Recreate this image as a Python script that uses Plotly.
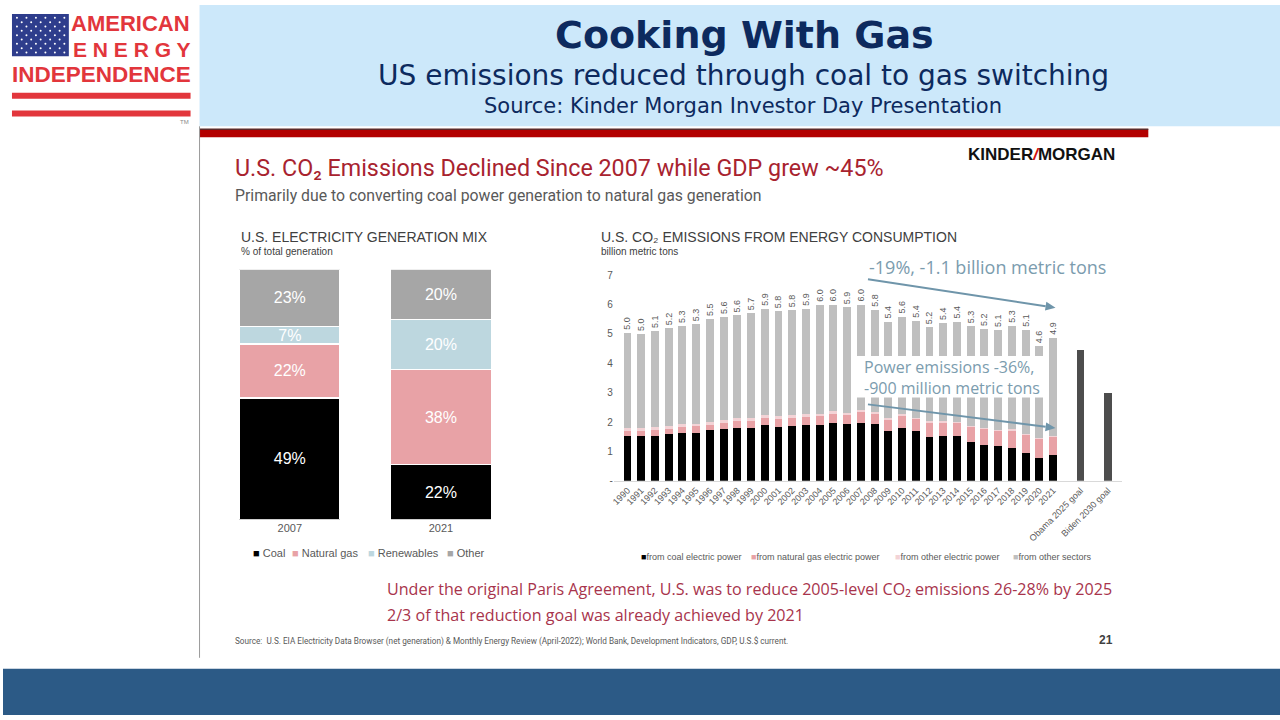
import math
import plotly.graph_objects as go

W, H = 1280, 720


def px(x):
    return x / W


def py(y):
    return 1 - y / H


# left panel: electricity generation mix, % of total
mix_years = ["2007", "2021"]
mix_coal = [48.6, 22.0]
mix_gas = [21.6, 38.0]
mix_renew = [6.9, 20.0]
mix_other = [22.9, 20.0]

# right panel: CO2 emissions from energy consumption, billion metric tons
co2_years = [str(y) for y in range(1990, 2022)]
co2_coal = [1.52, 1.52, 1.54, 1.60, 1.62, 1.64, 1.72, 1.77, 1.81, 1.81, 1.90, 1.84, 1.86, 1.91, 1.91, 1.97,
            1.92, 1.98, 1.93, 1.71, 1.81, 1.69, 1.49, 1.54, 1.53, 1.31, 1.21, 1.18, 1.13, 0.95, 0.78, 0.89]
co2_gas = [0.18, 0.18, 0.19, 0.18, 0.20, 0.21, 0.19, 0.20, 0.22, 0.23, 0.25, 0.26, 0.28, 0.26, 0.28, 0.32,
           0.34, 0.37, 0.36, 0.37, 0.40, 0.41, 0.49, 0.44, 0.44, 0.53, 0.55, 0.51, 0.58, 0.62, 0.64, 0.61]
co2_other_power = [0.11, 0.10, 0.09, 0.10, 0.10, 0.08, 0.08, 0.09, 0.11, 0.11, 0.10, 0.11, 0.09, 0.10, 0.10, 0.10,
                   0.06, 0.07, 0.06, 0.05, 0.05, 0.04, 0.04, 0.04, 0.04, 0.04, 0.04, 0.04, 0.04, 0.04, 0.03, 0.04]
co2_other_sectors = [3.23, 3.20, 3.28, 3.31, 3.35, 3.40, 3.52, 3.52, 3.49, 3.55, 3.61, 3.56, 3.58, 3.59, 3.70, 3.61,
                     3.59, 3.58, 3.47, 3.29, 3.33, 3.31, 3.21, 3.35, 3.41, 3.38, 3.37, 3.40, 3.53, 3.53, 3.13, 3.33]
co2_total = [5.0, 5.0, 5.1, 5.2, 5.3, 5.3, 5.5, 5.6, 5.6, 5.7, 5.9, 5.8, 5.8, 5.9, 6.0, 6.0,
             5.9, 6.0, 5.8, 5.4, 5.6, 5.4, 5.2, 5.4, 5.4, 5.3, 5.2, 5.1, 5.3, 5.1, 4.6, 4.9]
goal_labels = ["Obama 2025 goal", "Biden 2030 goal"]
goal_values = [4.45, 3.0]

GREY_TXT = "#595959"
C_COAL, C_GAS, C_RENEW, C_OTHER = "#000000", "#e8a2a6", "#bdd7df", "#a6a6a6"
C_OPOWER, C_OSECT, C_GOAL = "#f3d3d6", "#bfbfbf", "#4d4d4d"

fig = go.Figure()

# ---- left stacked bars
for vals, col in [(mix_coal, C_COAL), (mix_gas, C_GAS), (mix_renew, C_RENEW), (mix_other, C_OTHER)]:
    fig.add_trace(go.Bar(
        x=mix_years, y=vals, marker=dict(color=col, line=dict(color="white", width=1.5)),
        width=0.667, text=[f"{v:.0f}%" for v in vals], textposition="inside",
        insidetextanchor="middle", textangle=0, constraintext="none",
        textfont=dict(color="white", size=16, family="Liberation Sans"),
        showlegend=False, hoverinfo="skip", xaxis="x", yaxis="y"))

# ---- right stacked bars
pos = list(range(len(co2_years)))
goal_pos = [len(co2_years) + 1, len(co2_years) + 3]
for vals, col in [(co2_coal, C_COAL), (co2_gas, C_GAS), (co2_other_power, C_OPOWER)]:
    fig.add_trace(go.Bar(x=pos, y=vals, marker=dict(color=col, line=dict(width=0)), width=0.58,
                         showlegend=False, hoverinfo="skip", xaxis="x2", yaxis="y2"))
fig.add_trace(go.Bar(
    x=pos, y=co2_other_sectors, marker=dict(color=C_OSECT, line=dict(width=0)), width=0.58,
    text=[f"{t:.1f}" for t in co2_total], textposition="outside", textangle=-90,
    constraintext="none", cliponaxis=False,
    textfont=dict(color=GREY_TXT, size=9, family="Liberation Sans"),
    showlegend=False, hoverinfo="skip", xaxis="x2", yaxis="y2"))
fig.add_trace(go.Bar(x=goal_pos, y=goal_values, marker=dict(color=C_GOAL, line=dict(width=0)), width=0.58,
                     showlegend=False, hoverinfo="skip", xaxis="x2", yaxis="y2"))

fig.update_layout(
    width=W, height=H, margin=dict(l=0, r=0, t=0, b=0),
    paper_bgcolor="white", plot_bgcolor="rgba(0,0,0,0)", barmode="stack",
    font=dict(family="Liberation Sans", color=GREY_TXT),
    xaxis=dict(domain=[px(211.75), px(514.75)], range=[-0.5, 1.5], showline=False, showgrid=False,
               zeroline=False, ticks="", tickfont=dict(size=11, color=GREY_TXT), fixedrange=True),
    yaxis=dict(domain=[py(522), py(268)], range=[0, 100], visible=False, fixedrange=True),
    xaxis2=dict(domain=[px(612.2), px(1121.3)], range=[-1, 36], anchor="y2", showgrid=False,
                zeroline=False, showline=True, linecolor="#d9d9d9", linewidth=1, ticks="",
                tickvals=pos + goal_pos, ticktext=co2_years + goal_labels, tickangle=-45,
                tickfont=dict(size=9, color=GREY_TXT)),
    yaxis2=dict(domain=[py(482.5), py(274)], range=[0, 7], anchor="x2", showgrid=False,
                zeroline=False, showline=False, ticks="", tickvals=list(range(8)),
                ticktext=["-"] + [str(i) for i in range(1, 8)], tickfont=dict(size=10, color=GREY_TXT)),
)

shapes = [
    # header band and slide frame
    dict(type="rect", xref="paper", yref="paper", x0=px(197), x1=1, y0=py(123), y1=1,
         fillcolor="#cce8fa", line_width=0, layer="below"),
    dict(type="rect", xref="paper", yref="paper", x0=px(197), x1=px(1148), y0=py(134), y1=py(126),
         fillcolor="#b30000", line_width=0),
    dict(type="line", xref="paper", yref="paper", x0=px(197), x1=px(1148), y0=py(126), y1=py(126),
         line=dict(color="#5a2a2a", width=1.5)),
    dict(type="line", xref="paper", yref="paper", x0=px(197), x1=px(197), y0=py(123), y1=py(662),
         line=dict(color="#9a9a9a", width=1)),
    dict(type="rect", xref="paper", yref="paper", x0=0, x1=1, y0=0, y1=py(673),
         fillcolor="#2c5a86", line_width=0),
    # logo flag and stripes
    dict(type="rect", xref="paper", yref="paper", x0=px(9), x1=px(66), y0=py(52), y1=py(9),
         fillcolor="#2e3d8c", line_width=0),
    dict(type="rect", xref="paper", yref="paper", x0=px(9), x1=px(188), y0=py(95), y1=py(89),
         fillcolor="#e2363c", line_width=0),
    dict(type="rect", xref="paper", yref="paper", x0=px(9), x1=px(188), y0=py(113), y1=py(107),
         fillcolor="#e2363c", line_width=0),
    # white box behind the power emissions note
    dict(type="rect", xref="paper", yref="paper", x0=px(854), x1=px(1047), y0=py(398), y1=py(356),
         fillcolor="white", line_width=0, layer="above"),
]
for r in range(9):
    for c in range(6 if r % 2 == 0 else 5):
        cx = 14 + c * 9.5 + (0 if r % 2 == 0 else 4.75)
        cy = 13 + r * 4.4
        shapes.append(dict(type="circle", xref="paper", yref="paper", x0=px(cx - 1), x1=px(cx + 1),
                           y0=py(cy + 1), y1=py(cy - 1), fillcolor="white", line_width=0))

# callout arrows (line + filled head)
ARROW = "#6f95aa"
for (x0, y0), (x1, y1) in [((867, 278), (1055, 307)), ((867, 405), (1055, 429))]:
    ang = math.atan2(y1 - y0, x1 - x0)
    hl, hw = 10, 4.5
    bx, by = x1 - hl * math.cos(ang), y1 - hl * math.sin(ang)
    nx, ny = -math.sin(ang) * hw, math.cos(ang) * hw
    shapes.append(dict(type="line", xref="paper", yref="paper", x0=px(x0), y0=py(y0), x1=px(bx), y1=py(by),
                       line=dict(color=ARROW, width=2), layer="above"))
    path = (f"M {px(x1)},{py(y1)} L {px(bx + nx)},{py(by + ny)} "
            f"L {px(bx - nx)},{py(by - ny)} Z")
    shapes.append(dict(type="path", xref="paper", yref="paper", path=path, fillcolor=ARROW,
                       line_width=0, layer="above"))
fig.update_layout(shapes=shapes)

ann = []


def txt(x, y, s, size, color, family="Liberation Sans", xanchor="left", weight=None):
    f = dict(size=size, color=color, family=family)
    if weight:
        f["weight"] = weight
    ann.append(dict(x=px(x), y=py(y), xref="paper", yref="paper", text=s, showarrow=False,
                    xanchor=xanchor, yanchor="middle", font=f))


# logo text
LOGO_RED = "#e2363c"
txt(189, 19, "AMERICAN", 22, LOGO_RED, xanchor="right", weight="bold")
txt(189, 45, "E N E R G Y", 21, LOGO_RED, xanchor="right", weight="bold")
txt(98.5, 70, "INDEPENDENCE", 22.5, LOGO_RED, xanchor="center", weight="bold")
txt(188, 119, "TM", 6, "#888888", xanchor="right")

# header
NAVY = "#0d2a5e"
txt(743, 30, "Cooking With Gas", 38, NAVY, family="DejaVu Sans", xanchor="center", weight="bold")
txt(742, 71, "US emissions reduced through coal to gas switching", 28, NAVY, family="DejaVu Sans",
    xanchor="center")
txt(742, 102, "Source: Kinder Morgan Investor Day Presentation", 21, NAVY, family="DejaVu Sans",
    xanchor="center")

# slide headline
DARK_RED = "#a8232f"
txt(231, 165, "U.S. CO₂ Emissions Declined Since 2007 while GDP grew ~45%", 23.3, DARK_RED,
    family="Liberation Sans Narrow, Roboto")
txt(231, 193, "Primarily due to converting coal power generation to natural gas generation", 15.8, GREY_TXT,
    family="Liberation Sans Narrow, Roboto")
txt(1117, 152, "KINDER<span style='color:#d01010'><i>/</i></span>MORGAN", 17, "#111111",
    xanchor="right", weight="bold")

# left panel labels
txt(237, 235, "U.S. ELECTRICITY GENERATION MIX", 14, "#404040")
txt(237, 250, "% of total generation", 10, "#404040")
leg_left = [(249, C_COAL, "Coal"), (288, C_GAS, "Natural gas"), (364, C_RENEW, "Renewables"),
            (443, C_OTHER, "Other")]
for x, col, name in leg_left:
    txt(x, 556, f"<span style='color:{col}'>■</span> {name}", 11, GREY_TXT)

# right panel labels
txt(597, 235, "U.S. CO₂ EMISSIONS FROM ENERGY CONSUMPTION", 14, "#404040")
txt(597, 250, "billion metric tons", 10, "#404040")
leg_right = [(637, C_COAL, "from coal electric power"), (748, C_GAS, "from natural gas electric power"),
             (892, C_OPOWER, "from other electric power"), (1010, C_OSECT, "from other sectors")]
for x, col, name in leg_right:
    txt(x, 560, f"<span style='color:{col}'>■</span>{name}", 9, GREY_TXT)

NOTE = "#7b9cae"
txt(987, 266, "-19%, -1.1 billion metric tons", 18, NOTE, family="Open Sans", xanchor="center")
txt(861, 367, "Power emissions -36%,", 16, NOTE, family="Open Sans")
txt(861, 388, "-900 million metric tons", 16, NOTE, family="Open Sans")

# footer notes
ROSE = "#a8344c"
txt(383, 592, "Under the original Paris Agreement, U.S. was to reduce 2005-level CO₂ emissions "
              "26-28% by 2025", 16.1, ROSE, family="Open Sans")
txt(383, 619, "2/3 of that reduction goal was already achieved by 2021", 16.1, ROSE, family="Open Sans")
txt(231, 645, "Source:  U.S. EIA Electricity Data Browser (net generation) &amp; Monthly Energy Review "
              "(April-2022); World Bank, Development Indicators, GDP, U.S.$ current.", 8.2, GREY_TXT,
    family="Liberation Sans Narrow, Roboto")
txt(1115, 644, "21", 12, "#404040", xanchor="right", weight="bold")

fig.update_layout(annotations=ann)
fig.write_html("out.html", config={"displayModeBar": False},
               post_script="document.body.style.margin='0';"
                           "document.body.style.overflow='hidden';"
                           "document.documentElement.style.overflow='hidden';")
